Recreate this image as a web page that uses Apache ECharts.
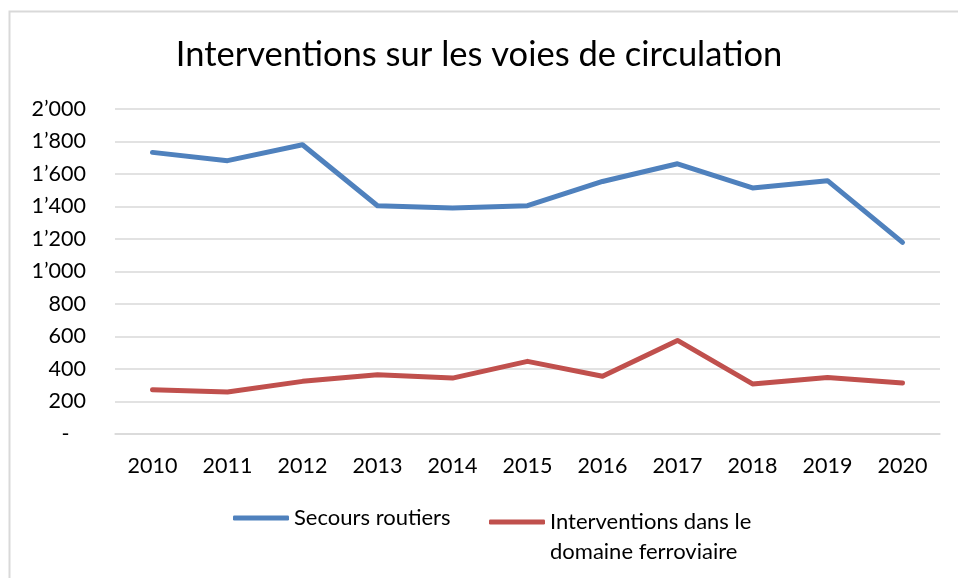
<!DOCTYPE html>
<html>
<head>
<meta charset="utf-8">
<script src="https://cdn.jsdelivr.net/npm/echarts@6/dist/echarts.min.js"></script>
<style>
  html, body { margin: 0; padding: 0; background: #fff; }
  #chart { width: 958px; height: 578px; }
</style>
</head>
<body>
<div id="chart"></div>
<script>
const years = ['2010', '2011', '2012', '2013', '2014', '2015', '2016', '2017', '2018', '2019', '2020'];
const secoursRoutiers = [1733, 1682, 1780, 1405, 1391, 1405, 1554, 1663, 1514, 1559, 1179];
const ferroviaire = [273, 258, 324, 365, 344, 447, 355, 576, 308, 348, 314];
const nameRoute = 'Secours routiers';
const nameRail = 'Interventions dans le\ndomaine ferroviaire';

const font = 'Lato';

// format façon Excel : 1’800, zéro affiché comme un tiret
function fmt(v) {
   if (v === 0) return '-   ';
   const s = String(v);
   return s.length > 3 ? s.slice(0, -3) + '\u2019' + s.slice(-3) : s;
}

const chart = echarts.init(document.getElementById('chart'), null, { renderer: 'canvas' });

const option = {
   animation: false,
   backgroundColor: '#fff',
   textStyle: { fontFamily: font },
   title: {
      text: 'Interventions sur les voies de circulation',
      left: 'center',
      top: 32,
      textStyle: { fontFamily: font, fontSize: 34.5, fontWeight: 'normal', color: '#000' },
   },
   graphic: [
      {
         type: 'rect',
         shape: { x: 9.5, y: 11.5, width: 1000, height: 600 },
         style: { fill: null, stroke: '#d9d9d9', lineWidth: 2 },
         silent: true,
      },
   ],
   legend: [
      {
         data: [nameRoute],
         left: 228,
         top: 502,
         icon: 'roundRect',
         itemWidth: 56,
         itemHeight: 5,
         textStyle: { fontFamily: font, fontSize: 22, color: '#000' },
      },
      {
         data: [nameRail],
         left: 484,
         top: 472,
         icon: 'roundRect',
         itemWidth: 56,
         itemHeight: 5,
         // ligne vide en tête pour que le trait soit à la hauteur de la 1re ligne
         formatter: (name) => '\n' + name,
         textStyle: { fontFamily: font, fontSize: 22, color: '#000', lineHeight: 30 },
      },
   ],
   grid: { left: 115, right: 18, top: 109, bottom: 144 },
   xAxis: {
      type: 'category',
      data: years,
      boundaryGap: true,
      axisLine: { lineStyle: { color: '#d9d9d9', width: 1.5 } },
      axisTick: { show: false },
      axisLabel: { fontFamily: font, fontSize: 21.5, color: '#000', margin: 21 },
   },
   yAxis: {
      type: 'value',
      min: 0,
      max: 2000,
      interval: 200,
      axisLine: { show: false },
      axisTick: { show: false },
      axisLabel: { fontFamily: font, fontSize: 21.5, color: '#000', margin: 29, formatter: fmt },
      splitLine: { lineStyle: { color: '#d9d9d9', width: 1.5 } },
   },
   series: [
      {
         name: nameRoute,
         type: 'line',
         data: secoursRoutiers,
         symbol: 'none',
         color: '#4f81bd',
         lineStyle: { width: 5, cap: 'round', join: 'round' },
      },
      {
         name: nameRail,
         type: 'line',
         data: ferroviaire,
         symbol: 'none',
         color: '#c0504d',
         lineStyle: { width: 5, cap: 'round', join: 'round' },
      },
   ],
};

chart.setOption(option);
window.addEventListener('resize', () => chart.resize());
</script>
</body>
</html>
